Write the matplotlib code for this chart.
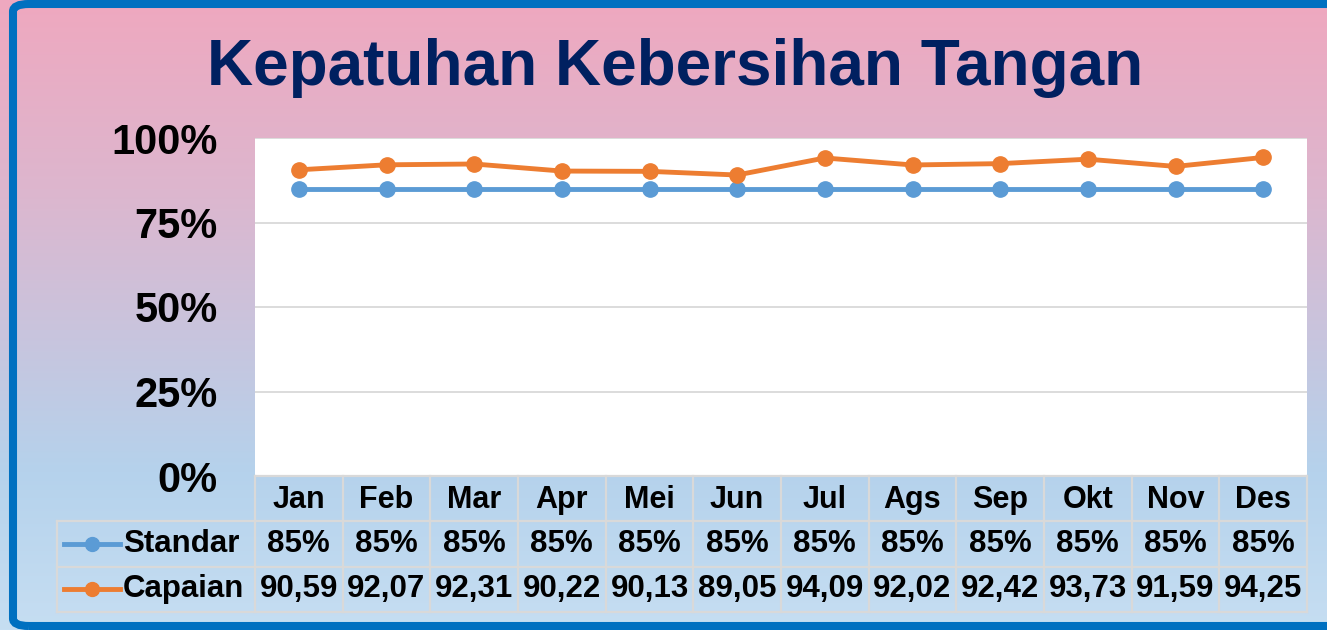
#!/usr/bin/env python3
"""Kepatuhan Kebersihan Tangan - line chart with data table below."""

import numpy as np
import matplotlib.pyplot as plt
from matplotlib.patches import FancyBboxPatch
from matplotlib.colors import LinearSegmentedColormap

plt.rcParams['font.family'] = ['Liberation Sans', 'DejaVu Sans']
plt.rcParams['font.weight'] = 'bold'

# Data
MONTHS = ["Jan", "Feb", "Mar", "Apr", "Mei", "Jun",
          "Jul", "Ags", "Sep", "Okt", "Nov", "Des"]
STANDAR = [85, 85, 85, 85, 85, 85, 85, 85, 85, 85, 85, 85]
CAPAIAN = [90.59, 92.07, 92.31, 90.22, 90.13, 89.05,
           94.09, 92.02, 92.42, 93.73, 91.59, 94.25]
SERIES = ["Standar", "Capaian"]
Y_TICKS = [0, 25, 50, 75, 100]
TITLE = "Kepatuhan Kebersihan Tangan"

# Styling
BLUE = "#5B9BD5"
ORANGE = "#ED7D31"
NAVY = "#002060"
GRID = "#D9D9D9"
FRAME = "#0070C0"

W, H = 1327, 630


def px(x0, y0, x1, y1):
    """Pixel box (top-left origin) -> figure rect"""
    return [x0 / W, 1 - y1 / H, (x1 - x0) / W, (y1 - y0) / H]


fig = plt.figure(figsize=(W / 100, H / 100), dpi=100)

# Background gradient (pink top -> light blue bottom)
bg = fig.add_axes([0, 0, 1, 1])
cmap = LinearSegmentedColormap.from_list(
    "bg", [(0.0, "#EFA8BF"), (0.3, "#DDB6CE"), (0.75, "#B5D2EC"), (1.0, "#C6DEF2")])
grad = np.linspace(0, 1, 256).reshape(-1, 1)
bg.imshow(grad, aspect="auto", cmap=cmap, extent=[0, 1, 0, 1], origin="upper")
bg.set_xlim(0, 1)
bg.set_ylim(0, 1)
bg.axis("off")

# Blue frame
frame = FancyBboxPatch((13 / W, 4 / H), 1.2, 1 - 8 / H,
                       boxstyle="round,pad=0,rounding_size=0.012",
                       transform=fig.transFigure, fill=False,
                       edgecolor=FRAME, linewidth=5.8, zorder=5)
fig.patches.append(frame)

fig.text(675 / W, 1 - 85 / H, TITLE, ha="center", va="baseline",
         fontsize=46, fontweight="bold", color=NAVY)

# Plot area
ax = fig.add_axes(px(255, 138, 1307, 476))
ax.set_facecolor("white")
x = np.arange(len(MONTHS))
ax.plot(x, STANDAR, color=BLUE, linewidth=3.5, marker="o", markersize=11, zorder=3)
ax.plot(x, CAPAIAN, color=ORANGE, linewidth=3.5, marker="o", markersize=11, zorder=3)
ax.set_xlim(-0.5, len(MONTHS) - 0.5)
ax.set_ylim(0, 100)
ax.set_yticks(Y_TICKS)
ax.set_yticklabels([f"{t}%" for t in Y_TICKS], fontsize=30, fontweight="bold")
ax.set_xticks([])
ax.tick_params(axis="y", length=0, pad=27)
for s in ax.spines.values():
    s.set_visible(False)
for t in Y_TICKS[1:]:
    ax.axhline(t, color=GRID, linewidth=1.3, zorder=1)

# Data table
col_w = (1307 - 255) / len(MONTHS)
hw = (255 - 57) / col_w
tab = fig.add_axes(px(57, 476, 1307, 612))
tab.set_xlim(-0.5 - hw, len(MONTHS) - 0.5)
tab.set_ylim(3, 0)
tab.axis("off")

left = -0.5 - hw
right = len(MONTHS) - 0.5
tab.plot([-0.5, right], [0, 0], color=GRID, lw=1.6, clip_on=False)
for yy in (1, 2, 3):
    tab.plot([left, right], [yy, yy], color=GRID, lw=1.6, clip_on=False)
tab.plot([left, left], [1, 3], color=GRID, lw=1.6, clip_on=False)
for i in range(len(MONTHS) + 1):
    tab.plot([i - 0.5, i - 0.5], [0, 3], color=GRID, lw=1.6, clip_on=False)

for i, m in enumerate(MONTHS):
    tab.text(i, 0.52, m, ha="center", va="center", fontsize=22, fontweight="bold")
    tab.text(i, 1.5, f"{STANDAR[i]}%", ha="center", va="center",
             fontsize=22.5, fontweight="bold")
    tab.text(i, 2.5, f"{CAPAIAN[i]:.2f}".replace(".", ","), ha="center",
             va="center", fontsize=22.5, fontweight="bold")


def tx(p):
    return left + (p - 57) / col_w


for row, (name, color) in enumerate(zip(SERIES, [BLUE, ORANGE])):
    yy = 1.5 + row
    tab.plot([tx(64), tx(120)], [yy, yy], color=color, lw=3.5, clip_on=False)
    tab.plot([tx(92)], [yy], color=color, marker="o", markersize=10, clip_on=False)
    tab.text(tx(123), yy, name, ha="left", va="center", fontsize=22.5, fontweight="bold")

plt.savefig("out.png", dpi=100)
plt.close()
